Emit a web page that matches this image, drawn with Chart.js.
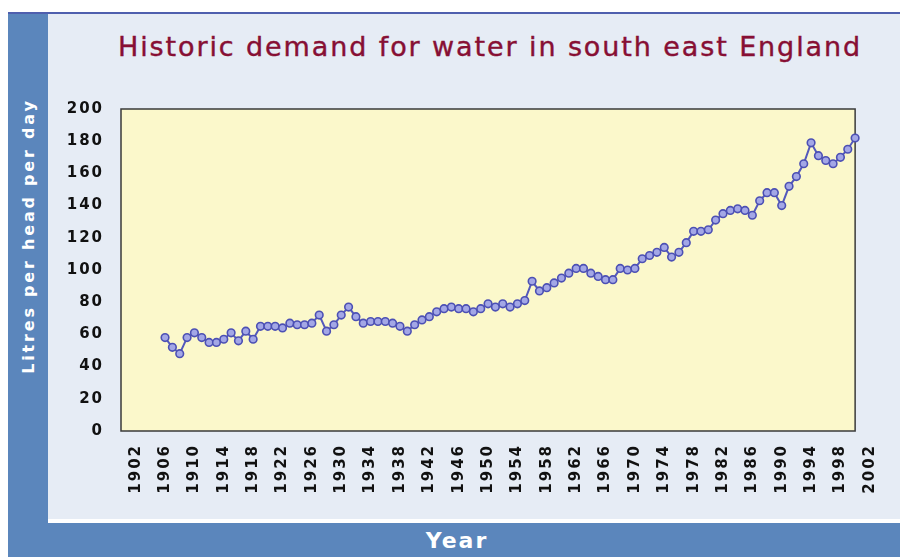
<!DOCTYPE html>
<html>
<head>
<meta charset="utf-8">
<script src="https://cdn.jsdelivr.net/npm/chart.js@4.4.1/dist/chart.umd.min.js"></script>
<style>
  body { margin: 0; background: #fff; width: 900px; height: 557px; overflow: hidden; font-family: "DejaVu Sans", sans-serif; }
  #frame { position: absolute; left: 8px; top: 12px; width: 892px; height: 545px; background: #5b86bc; border-top: 2px solid #4f5fae; box-sizing: border-box; }
  #panel { position: absolute; left: 40px; top: 0; right: 0; height: 505px; background: #e6ecf5; border-bottom: 4px solid #fff; }
  #title { position: absolute; left: 490px; top: 31px; transform: translateX(-50%); white-space: nowrap; font-size: 27px; color: #870f34; letter-spacing: 1.9px; -webkit-text-stroke: 0.4px #870f34; }
  #ytitle { position: absolute; left: 28px; top: 236px; transform: translate(-50%, -50%) rotate(-90deg); white-space: nowrap; color: #fff; font-size: 16px; letter-spacing: 2.8px; font-weight: bold; }
  #xtitle { position: absolute; left: 457px; top: 540px; transform: translate(-50%, -50%); color: #fff; font-size: 22px; letter-spacing: 2px; font-weight: bold; }
  canvas { position: absolute; left: 0; top: 0; }
</style>
</head>
<body>
<div id="frame"><div id="panel"></div></div>
<div id="title">Historic demand for water in south east England</div>
<div id="ytitle">Litres per head per day</div>
<div id="xtitle">Year</div>
<canvas id="grafico" width="900" height="557"></canvas>
<script>
// Datos
const years = [
  1906, 1907, 1908, 1909, 1910, 1911, 1912, 1913, 1914, 1915,
  1916, 1917, 1918, 1919, 1920, 1921, 1922, 1923, 1924, 1925,
  1926, 1927, 1928, 1929, 1930, 1931, 1932, 1933, 1934, 1935,
  1936, 1937, 1938, 1939, 1940, 1941, 1942, 1943, 1944, 1945,
  1946, 1947, 1948, 1949, 1950, 1951, 1952, 1953, 1954, 1955,
  1956, 1957, 1958, 1959, 1960, 1961, 1962, 1963, 1964, 1965,
  1966, 1967, 1968, 1969, 1970, 1971, 1972, 1973, 1974, 1975,
  1976, 1977, 1978, 1979, 1980, 1981, 1982, 1983, 1984, 1985,
  1986, 1987, 1988, 1989, 1990, 1991, 1992, 1993, 1994, 1995,
  1996, 1997, 1998, 1999, 2000
];
const demand = [
  58, 52, 48, 58, 61, 58, 55, 55, 57, 61,
  56, 62, 57, 65, 65, 65, 64, 67, 66, 66,
  67, 72, 62, 66, 72, 77, 71, 67, 68, 68,
  68, 67, 65, 62, 66, 69, 71, 74, 76, 77,
  76, 76, 74, 76, 79, 77, 79, 77, 79, 81,
  93, 87, 89, 92, 95, 98, 101, 101, 98, 96,
  94, 94, 101, 100, 101, 107, 109, 111, 114, 108,
  111, 117, 124, 124, 125, 131, 135, 137, 138, 137,
  134, 143, 148, 148, 140, 152, 158, 166, 179, 171,
  168, 166, 170, 175, 182
];
const xTickLabels = [1902, 1906, 1910, 1914, 1918, 1922, 1926, 1930, 1934, 1938,
  1942, 1946, 1950, 1954, 1958, 1962, 1966, 1970, 1974, 1978, 1982, 1986,
  1990, 1994, 1998, 2002];

const puntos = years.map((y, i) => ({ x: y, y: demand[i] }));

const fondoPlot = {
  id: "fondoPlot",
  beforeUpdate(chart) {
    chart.ctx.letterSpacing = "2px";
  },
  beforeDraw(chart) {
    const { ctx, chartArea: a } = chart;
    ctx.save();
    ctx.fillStyle = "#fbf8cb";
    ctx.fillRect(a.left, a.top, a.right - a.left, a.bottom - a.top);
    ctx.restore();
  },
  beforeDatasetsDraw(chart) {
    const { ctx, chartArea: a } = chart;
    ctx.save();
    ctx.strokeStyle = "#3a3a3a";
    ctx.lineWidth = 1.5;
    ctx.strokeRect(a.left, a.top, a.right - a.left, a.bottom - a.top);
    ctx.restore();
  }
};

const ctx = document.getElementById("grafico").getContext("2d");
new Chart(ctx, {
  type: "line",
  data: {
    datasets: [{
      data: puntos,
      borderColor: "#5459bc",
      borderWidth: 2,
      pointRadius: 3.8,
      pointBorderWidth: 1.6,
      pointBorderColor: "#4c50b4",
      pointBackgroundColor: "#a3a7e6",
      clip: false
    }]
  },
  options: {
    responsive: false,
    animation: false,
    layout: { padding: { top: 109, right: 40, bottom: 0, left: 0 } },
    plugins: { legend: { display: false }, tooltip: { enabled: false } },
    scales: {
      x: {
        type: "linear",
        min: 1900,
        max: 2000,
        afterBuildTicks: scale => { scale.ticks = xTickLabels.map(v => ({ value: v })); },
        afterFit: scale => { scale.height = 126; },
        grid: { display: false, drawTicks: false },
        border: { display: false },
        ticks: {
          autoSkip: false,
          minRotation: 90,
          maxRotation: 90,
          padding: 13,
          color: "#111",
          font: { family: "DejaVu Sans", size: 15, weight: "bold" },
          callback: v => String(v)
        }
      },
      y: {
        min: 0,
        max: 200,
        afterFit: scale => { scale.width = 121; },
        grid: { display: false, drawTicks: false },
        border: { display: false },
        ticks: {
          stepSize: 20,
          padding: 17,
          color: "#111",
          font: { family: "DejaVu Sans", size: 15, weight: "bold" }
        }
      }
    }
  },
  plugins: [fondoPlot]
});
</script>
</body>
</html>
